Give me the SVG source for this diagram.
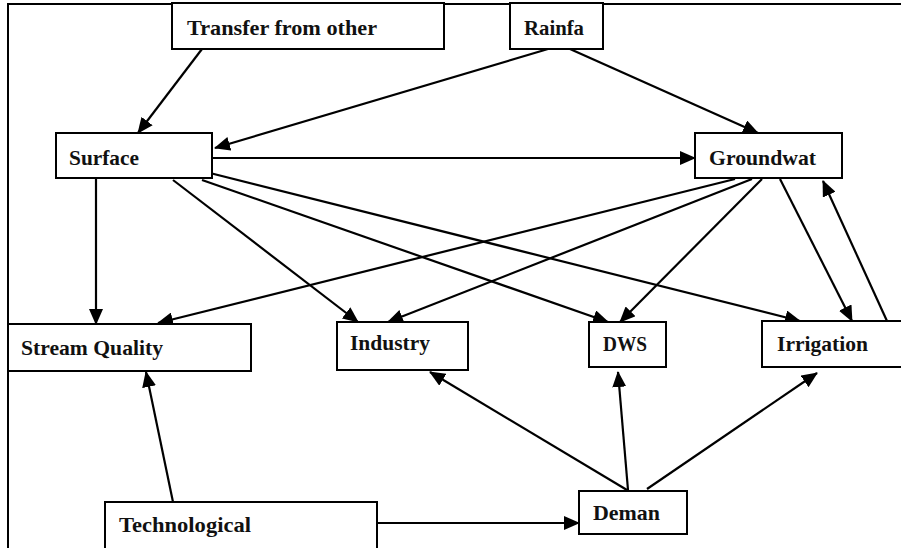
<svg xmlns="http://www.w3.org/2000/svg" width="901" height="548" viewBox="0 0 901 548">
<defs>
<marker id="ah" markerUnits="userSpaceOnUse" markerWidth="16" markerHeight="14" viewBox="0 0 16 14" refX="15" refY="7" orient="auto">
<path d="M0,0 L16,7 L0,14 Z" fill="#000"/>
</marker>
<style>
.box{fill:#fff;stroke:#000;stroke-width:2}
.lbl{font-family:"Liberation Serif","DejaVu Serif",serif;font-weight:bold;font-size:21.5px;fill:#111}
.cn{fill:none;stroke:#000;stroke-width:2.2;marker-end:url(#ah)}
</style>
</defs>
<rect width="901" height="548" fill="#fff"/>
<path d="M8,548 V4 H901" fill="none" stroke="#000" stroke-width="2"/>
<g id="connectors">
<line class="cn" x1="202" y1="49" x2="138" y2="133"/>
<line class="cn" x1="548" y1="49" x2="215" y2="148"/>
<line class="cn" x1="570" y1="49" x2="758" y2="133"/>
<line class="cn" x1="212" y1="158" x2="695" y2="158"/>
<line class="cn" x1="96" y1="178" x2="96" y2="324"/>
<line class="cn" x1="173" y1="180" x2="358" y2="322"/>
<line class="cn" x1="202" y1="180" x2="608" y2="322"/>
<line class="cn" x1="202" y1="171" x2="800" y2="321"/>
<line class="cn" x1="735" y1="179" x2="158" y2="323"/>
<line class="cn" x1="752" y1="179" x2="388" y2="322"/>
<line class="cn" x1="762" y1="179" x2="620" y2="322"/>
<line class="cn" x1="780" y1="179" x2="852" y2="321"/>
<line class="cn" x1="887" y1="321" x2="823" y2="181"/>
<line class="cn" x1="173" y1="502" x2="146" y2="372"/>
<line class="cn" x1="377" y1="523" x2="579" y2="523"/>
<line class="cn" x1="627" y1="490" x2="430" y2="372"/>
<line class="cn" x1="628" y1="490" x2="618" y2="372"/>
<line class="cn" x1="647" y1="489" x2="817" y2="373"/>
</g>
<g id="transfer"><rect class="box" x="172" y="3" width="272" height="46"/><text class="lbl" x="187" y="35" textLength="190" lengthAdjust="spacingAndGlyphs">Transfer from other</text></g>
<g id="rainfa"><rect class="box" x="510" y="3" width="93" height="46"/><text class="lbl" x="524" y="35" textLength="60" lengthAdjust="spacingAndGlyphs">Rainfa</text></g>
<g id="surface"><rect class="box" x="56" y="133" width="156" height="45"/><text class="lbl" x="69" y="165" textLength="70" lengthAdjust="spacingAndGlyphs">Surface</text></g>
<g id="groundwat"><rect class="box" x="695" y="133" width="147" height="45"/><text class="lbl" x="709" y="165" textLength="107" lengthAdjust="spacingAndGlyphs">Groundwat</text></g>
<g id="stream"><rect class="box" x="8" y="324" width="243" height="47"/><text class="lbl" x="21" y="355" textLength="142" lengthAdjust="spacingAndGlyphs">Stream Quality</text></g>
<g id="industry"><rect class="box" x="337" y="322" width="131" height="48"/><text class="lbl" x="350" y="350" textLength="80" lengthAdjust="spacingAndGlyphs">Industry</text></g>
<g id="dws"><rect class="box" x="589" y="322" width="77" height="45"/><text class="lbl" x="603" y="351" textLength="44" lengthAdjust="spacingAndGlyphs">DWS</text></g>
<g id="irrigation"><rect class="box" x="762" y="321" width="145" height="46"/><text class="lbl" x="777" y="351" textLength="91" lengthAdjust="spacingAndGlyphs">Irrigation</text></g>
<g id="technological"><rect class="box" x="105" y="502" width="272" height="50"/><text class="lbl" x="119" y="532" textLength="132" lengthAdjust="spacingAndGlyphs">Technological</text></g>
<g id="deman"><rect class="box" x="579" y="491" width="108" height="43"/><text class="lbl" x="593" y="520" textLength="67" lengthAdjust="spacingAndGlyphs">Deman</text></g>
</svg>
